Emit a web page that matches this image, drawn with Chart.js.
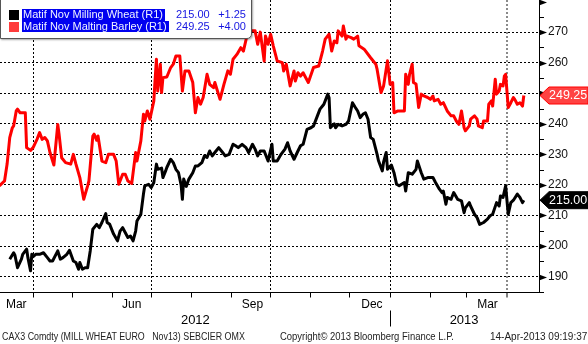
<!DOCTYPE html>
<html>
<head>
<meta charset="utf-8">
<script src="https://cdn.jsdelivr.net/npm/chart.js@4.4.1/dist/chart.umd.min.js"></script>
<style>
html, body { margin: 0; padding: 0; background: #fff; }
#wrap { position: relative; width: 588px; height: 344px; overflow: hidden; font-family: "Liberation Sans", Arial, sans-serif; }
#chart { position: absolute; left: 0; top: 0; }
#legend { position: absolute; left: 0; top: -2px; width: 250px; height: 39px; background: #fff;
  border: 1px solid #555; border-radius: 0 0 5px 0; box-shadow: 1px 1px 2px rgba(0,0,0,0.35); font-size: 11px; }
.row { position: absolute; left: 0; width: 250px; height: 11.5px; line-height: 11.5px; }
.sw { position: absolute; left: 8px; top: 1px; width: 10px; height: 10px; }
.name { position: absolute; left: 21px; background: #0000f0; color: #eef2ff; padding: 0 2px 0 1px; white-space: nowrap; }
.val { position: absolute; left: 175px; color: #1515e0; }
.chg { position: absolute; right: 5px; color: #1515e0; }
.foot { position: absolute; top: 331px; font-size: 10px; color: #222; white-space: pre; transform-origin: 0 50%; }
</style>
</head>
<body>
<div id="wrap">
  <canvas id="chart" width="588" height="344"></canvas>
  <div id="legend">
    <div class="row" style="top:10px"><span class="sw" style="background:#000"></span><span class="name">Matif Nov Milling Wheat (R1)</span><span class="val">215.00</span><span class="chg">+1.25</span></div>
    <div class="row" style="top:21.5px"><span class="sw" style="background:#ff3c3c"></span><span class="name">Matif Nov Malting Barley (R1)</span><span class="val">249.25</span><span class="chg">+4.00</span></div>
  </div>
  <span class="foot" style="left:2px; transform:scaleX(0.887)">CAX3 Comdty (MILL WHEAT EURO   Nov13) SEBCIER OMX</span>
  <span class="foot" style="left:280px; transform:scaleX(0.945)">Copyright© 2013 Bloomberg Finance L.P.</span>
  <span class="foot" style="left:490px">14-Apr-2013 09:19:37</span>
</div>
<script>
// x values are days counted from 1 Jan 2012
const barleyDays = [65, 69, 71, 73, 75, 76, 78, 79, 81, 85, 86, 89, 91, 94, 96, 98, 100, 102, 104, 107,
  110, 111, 113, 116, 120, 122, 124, 127, 130, 133, 134, 137, 138, 140, 141, 144, 147, 149, 153, 155,
  157, 160, 162, 164, 167, 170, 171, 174, 176, 177, 179, 181, 184, 185, 186, 187, 189, 190, 191, 194,
  197, 199, 201, 204, 206, 208, 211, 214, 216, 218, 220, 222, 225, 227, 230, 231, 235, 238, 241, 243,
  245, 248, 251, 253, 256, 258, 262, 264, 266, 269, 270, 272, 274, 276, 279, 283, 284, 286, 289, 292,
  293, 295, 297, 299, 303, 307, 311, 314, 316, 319, 321, 323, 325, 326, 329, 330, 332, 333, 336, 338,
  341, 342, 346, 351, 355, 356, 359, 361, 364, 366, 368, 369, 372, 377, 378, 380, 381, 383, 384, 386,
  388, 390, 392, 395, 397, 399, 400, 403, 405, 407, 410, 413, 415, 417, 419, 421, 423, 424, 427, 428,
  431, 433, 434, 437, 438, 441, 442, 444, 445, 447, 448, 450, 451, 453, 454, 455, 457, 459, 461, 462,
  464, 466, 468, 469];
const barleyValues = [219.7, 221.3, 226.9, 235.5, 238.7, 239.3, 244.2, 244.8, 243.6, 243.6, 232.2, 231.3, 232.2, 234.9, 237.1, 234.9, 235.5, 234.4, 230.6, 226.5,
  239.8, 236.6, 228.9, 227.3, 226.8, 230, 226.8, 222.4, 215.3, 219.7, 221.3, 236.0, 236.6, 234.6, 236, 227.8, 227.3, 230, 230, 227.8,
  220.2, 223.5, 223.5, 221.3, 220.5, 230.6, 227.8, 234.4, 243.1, 240.9, 244.2, 241.5, 247.5, 254.6, 261.1, 250.7, 259.5, 250.2, 255.1, 255.3,
  258.4, 259.5, 262.2, 262.2, 250.7, 257.3, 257.3, 253.5, 243.6, 248.6, 246.4, 248.6, 256.2, 252.9, 251.8, 253.5, 248, 252.9, 257.3, 256.2,
  261.1, 262.7, 264.9, 263.8, 269.3, 270.4, 270.4, 266, 270, 260.5, 268.7, 266, 269.3, 265.5, 260.6, 260, 257.3, 259.5, 252.4, 257.3,
  254, 256.7, 255.6, 256.7, 253.5, 258.4, 258.9, 263.8, 267.7, 269.3, 263.8, 267.1, 266.5, 270.4, 268.7, 272, 267.7, 268.7, 268.2, 267.7,
  268.7, 265.5, 264.4, 261.6, 259.5, 257.8, 250.2, 252.4, 260.6, 252.9, 253.5, 243.6, 244.2, 244.2, 256.2, 252.9, 256.2, 259.5, 253.5, 253,
  245.3, 249.7, 249.1, 248.6, 248, 249.1, 247.5, 248, 246.4, 246.9, 244.2, 242.6, 242.6, 240.9, 239.8, 244.2, 238.7, 237.7, 239.3, 241.5,
  242.6, 241.5, 239.3, 238.7, 240.9, 240.9, 246.4, 247.5, 245.8, 254.6, 249.7, 250.7, 252.9, 252.4, 255.6, 256.2, 245.3, 246.9, 248.6, 248,
  246.4, 246.9, 245.8, 249.25];

const wheatDays = [73, 76, 77, 79, 82, 83, 86, 87, 89, 90, 91, 93, 96, 99, 102, 104, 106, 110, 112, 114,
  117, 119, 122, 124, 126, 127, 129, 131, 133, 135, 137, 140, 142, 144, 147, 148, 150, 153, 156, 158,
  160, 164, 166, 168, 170, 171, 174, 176, 177, 180, 182, 184, 186, 187, 190, 191, 193, 194, 197, 199,
  201, 203, 205, 206, 207, 209, 211, 214, 216, 218, 221, 223, 225, 227, 229, 231, 234, 237, 239, 242,
  245, 247, 249, 252, 255, 257, 260, 262, 264, 266, 269, 272, 275, 276, 279, 282, 285, 287, 289, 292,
  295, 297, 299, 302, 305, 307, 310, 312, 315, 318, 319, 320, 323, 324, 326, 329, 332, 334, 337, 339,
  341, 343, 345, 347, 349, 351, 353, 356, 357, 360, 361, 363, 364, 367, 369, 371, 373, 377, 378, 380,
  383, 386, 387, 390, 392, 395, 399, 401, 404, 406, 407, 409, 410, 413, 415, 418, 421, 423, 424, 427,
  428, 431, 433, 435, 438, 441, 443, 445, 448, 450, 451, 453, 455, 457, 459, 461, 464, 466, 468, 469];
const wheatValues = [195.7, 197.8, 197, 192.9, 195.7, 197.3, 199, 196.2, 191.9, 197.3, 196.5, 197.3, 197.3, 197.8, 196.2, 195.1, 195.1, 198.4, 195.7, 196.2,
  197.3, 198.6, 195.1, 194.6, 192.4, 194.6, 192.4, 192.9, 192.9, 198.4, 205.5, 207.1, 206, 207.7, 210.6, 207.7, 207.1, 203.9, 201.7, 204.9,
  206, 202.8, 203.3, 201.7, 204.9, 208.2, 210.4, 217, 219.7, 220.2, 219.1, 220.8, 226.8, 225.1, 225.5, 222.4, 224.5, 225.7, 228.4, 227.3,
  225.1, 224, 220, 215.3, 221.9, 219.5, 221.9, 224, 226.2, 226.2, 227.3, 229.5, 229, 231.1, 229.5, 230.6, 232.2, 230.6, 229.5, 230,
  233.3, 232.8, 232.2, 233.3, 232.2, 230.6, 233.3, 231.7, 229.5, 231.1, 231.1, 227.8, 233.3, 227.8, 227.8, 230, 231.7, 233.8, 231.1, 228.4,
  231.1, 232.8, 233.3, 238.2, 238.7, 239.3, 242.6, 244.8, 246.4, 249.7, 248.5, 238.7, 240, 238.7, 239.8, 239.3, 239.8, 240.9, 246.9, 245.5,
  244.2, 242, 243.1, 243.6, 241.5, 235.5, 234.9, 230, 228, 224.6, 227.5, 230.6, 225.1, 226.5, 224, 220.2, 219.7, 220.8, 218, 224,
  223.5, 225.1, 227.8, 224, 221.9, 222.4, 222.4, 220.8, 218.6, 217.5, 218, 213.7, 215.9, 215.3, 217.5, 215.3, 214.8, 210.9, 212.5, 214.2,
  213.1, 210.4, 209.3, 207.1, 207.7, 208.8, 209.9, 210.4, 214.2, 213.1, 216.4, 215.9, 219.7, 210.4, 214.2, 215, 217, 215.9, 214.2, 215];

const monthStarts = [91, 121, 152, 182, 213, 244, 274, 305, 335, 366, 397, 425, 456];
const quarterStarts = [91, 182, 274, 366, 456];
const monthLabels = ['Mar', 'Jun', 'Sep', 'Dec', 'Mar'];
const monthLabelDays = [78, 167, 260, 352, 441];
const yearLabels = ['2012', '2013'];
const yearLabelDays = [216, 423];
const yearBreak = 366;
const yTicks = [185, 190, 195, 200, 205, 210, 215, 220, 225, 230, 235, 240, 245, 250, 255, 260, 265, 270, 275, 280];

const xMin = 65.5, xMax = 480.7;

// no label-overflow padding, the plot must sit flush with the canvas edges
const noPad = s => { s.paddingLeft = 0; s.paddingRight = 0; s.paddingTop = 0; s.paddingBottom = 0; };

const axisMarks = {
  id: 'axisMarks',
  afterDraw(chart) {
    const {ctx, chartArea, scales} = chart;
    const y = scales.y, x = scales.x;
    const r = chartArea.right;
    ctx.save();
    ctx.fillStyle = '#000';
    ctx.strokeStyle = '#000';
    ctx.lineWidth = 1;
    y.ticks.forEach(t => {
      const py = Math.round(y.getPixelForValue(t.value)) + 0.5;
      if (t.value % 10 === 0) {
        ctx.beginPath();
        ctx.moveTo(r, py - 3);
        ctx.lineTo(r + 8, py);
        ctx.lineTo(r, py + 3);
        ctx.closePath();
        ctx.fill();
      } else {
        ctx.beginPath();
        ctx.moveTo(r, py);
        ctx.lineTo(r + 5, py);
        ctx.stroke();
      }
    });
    // year divider
    const sx = Math.round(x.getPixelForValue(yearBreak)) + 0.5;
    ctx.beginPath();
    ctx.moveTo(sx, scales.xy.top - 1);
    ctx.lineTo(sx, scales.xy.bottom - 1);
    ctx.stroke();

    // last value tags
    const tags = [
      [barleyValues[barleyValues.length - 1], '#ff4242', '#ff0000'],
      [wheatValues[wheatValues.length - 1], '#000', '#000']
    ];
    ctx.font = '12.5px "Liberation Sans", Arial, sans-serif';
    ctx.textBaseline = 'middle';
    tags.forEach(([v, fill, line]) => {
      const py = y.getPixelForValue(v);
      const x0 = r + 1;
      ctx.beginPath();
      ctx.moveTo(x0, py);
      ctx.lineTo(x0 + 9, py - 8.5);
      ctx.lineTo(588, py - 8.5);
      ctx.lineTo(588, py + 8.5);
      ctx.lineTo(x0 + 9, py + 8.5);
      ctx.closePath();
      ctx.fillStyle = fill;
      ctx.fill();
      ctx.strokeStyle = line;
      ctx.stroke();
      ctx.fillStyle = '#fff';
      ctx.fillText(v.toFixed(2), x0 + 9, py + 0.5);
    });
    ctx.restore();
  }
};

new Chart(document.getElementById('chart'), {
  type: 'line',
  data: {
    datasets: [{
      label: 'Matif Nov Milling Wheat (R1)',
      data: wheatDays.map((d, i) => ({x: d, y: wheatValues[i]})),
      borderColor: '#000',
      borderWidth: 3,
      pointRadius: 0,
      tension: 0,
      borderJoinStyle: 'round'
    }, {
      label: 'Matif Nov Malting Barley (R1)',
      data: barleyDays.map((d, i) => ({x: d, y: barleyValues[i]})),
      borderColor: '#ff0000',
      borderWidth: 3,
      pointRadius: 0,
      tension: 0,
      borderJoinStyle: 'round'
    }]
  },
  options: {
    responsive: false,
    animation: false,
    devicePixelRatio: 1,
    layout: {padding: {left: 0, top: 0, right: 0, bottom: 16.5}},
    plugins: {
      legend: {display: false},
      tooltip: {enabled: false}
    },
    scales: {
      x: {
        type: 'linear',
        position: 'bottom',
        weight: 0,
        min: xMin,
        max: xMax,
        afterBuildTicks: s => { s.ticks = monthStarts.map(v => ({value: v})); },
        afterFit: s => { s.height = 5; noPad(s); },
        ticks: {display: false, autoSkip: false},
        grid: {
          color: c => c.tick && c.tick.value === 456 ? '#8a8a8a' : (quarterStarts.includes(c.tick && c.tick.value) ? '#000' : 'rgba(0,0,0,0)'),
          lineWidth: c => c.tick && c.tick.value === 456 ? 2 : 1,
          drawTicks: true,
          tickLength: 5,
          tickColor: '#000',
          tickWidth: 1
        },
        border: {display: true, color: '#000', width: 1, dash: [2, 2]}
      },
      xm: {
        type: 'linear',
        position: 'bottom',
        weight: 1,
        min: xMin,
        max: xMax,
        afterBuildTicks: s => { s.ticks = monthLabelDays.map(v => ({value: v})); },
        afterFit: s => { s.height = 14; noPad(s); },
        ticks: {
          autoSkip: false,
          maxRotation: 0,
          padding: 0,
          color: '#000',
          font: {family: '"Liberation Sans", Arial, sans-serif', size: 12},
          callback: (v, i) => monthLabels[i]
        },
        grid: {display: false, drawTicks: false},
        border: {display: false}
      },
      xy: {
        type: 'linear',
        position: 'bottom',
        weight: 2,
        min: xMin,
        max: xMax,
        afterBuildTicks: s => { s.ticks = yearLabelDays.map(v => ({value: v})); },
        afterFit: s => { s.height = 16; noPad(s); },
        ticks: {
          autoSkip: false,
          maxRotation: 0,
          padding: 1,
          color: '#000',
          font: {family: '"Liberation Sans", Arial, sans-serif', size: 13},
          callback: (v, i) => yearLabels[i]
        },
        grid: {display: false, drawTicks: false},
        border: {display: false}
      },
      y: {
        position: 'right',
        min: 184.8,
        max: 280.5,
        afterBuildTicks: s => { s.ticks = yTicks.map(v => ({value: v})); },
        afterFit: s => { s.width = 49; noPad(s); },
        ticks: {
          autoSkip: false,
          padding: 9,
          color: '#111',
          font: {family: '"Liberation Sans", Arial, sans-serif', size: 12},
          callback: v => (v % 10 === 0 && v < 280) ? String(v) : ''
        },
        grid: {
          color: c => (c.tick && c.tick.value % 10 === 0 && c.tick.value < 280) ? '#000' : 'rgba(0,0,0,0)',
          drawTicks: false
        },
        border: {display: true, color: '#000', width: 1, dash: [2, 2]}
      }
    }
  },
  plugins: [axisMarks]
});
</script>
</body>
</html>
